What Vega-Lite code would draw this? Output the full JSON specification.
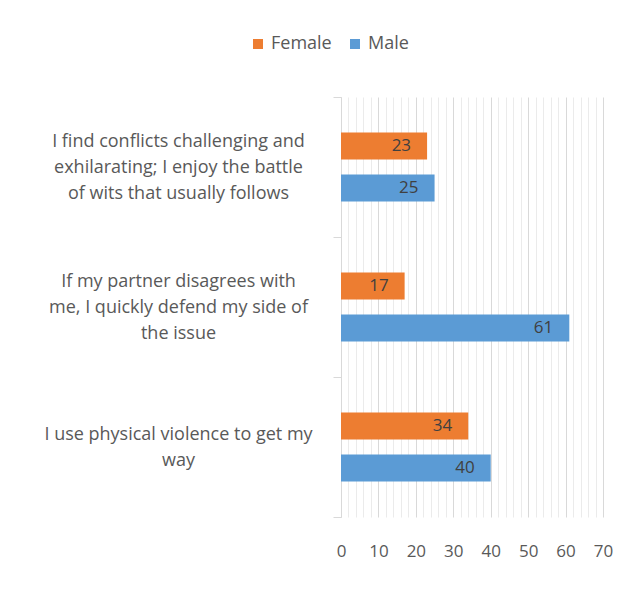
{
  "$schema": "https://vega.github.io/schema/vega-lite/v6.json",
  "width": 262,
  "height": 420,
  "autosize": {"type": "none"},
  "padding": {"left": 341, "top": 97, "right": 33, "bottom": 74},
  "background": "white",
  "config": {
    "font": "Open Sans",
    "view": {"stroke": null}
  },
  "data": {
    "values": [
      {"q": "I find conflicts challenging and|exhilarating; I enjoy the battle|of wits that usually follows", "sex": "Female", "value": 23},
      {"q": "I find conflicts challenging and|exhilarating; I enjoy the battle|of wits that usually follows", "sex": "Male", "value": 25},
      {"q": "If my partner disagrees with|me, I quickly defend my side of|the issue", "sex": "Female", "value": 17},
      {"q": "If my partner disagrees with|me, I quickly defend my side of|the issue", "sex": "Male", "value": 61},
      {"q": "I use physical violence to get my|way", "sex": "Female", "value": 34},
      {"q": "I use physical violence to get my|way", "sex": "Male", "value": 40}
    ]
  },
  "encoding": {
    "y": {
      "field": "q",
      "type": "nominal",
      "sort": null,
      "scale": {"paddingInner": 0, "paddingOuter": 0},
      "axis": {
        "title": null,
        "labelExpr": "split(datum.label, '|')",
        "labelAlign": "center",
        "labelBaseline": "middle",
        "labelOffset": {"condition": {"test": "length(split(datum.label, '|')) === 3", "value": -26}, "value": -13},
        "labelPadding": 155,
        "labelFontSize": 18,
        "labelLineHeight": 26,
        "labelColor": "#595959",
        "labelLimit": 400,
        "tickBand": "extent",
        "tickSize": 8,
        "tickColor": "#d9d9d9",
        "domainColor": "#d9d9d9"
      }
    },
    "yOffset": {
      "field": "sex",
      "type": "nominal",
      "sort": ["Female", "Male"],
      "scale": {"paddingInner": 0.357, "paddingOuter": 0.845}
    },
    "x": {
      "field": "value",
      "type": "quantitative",
      "scale": {"domain": [0, 70], "nice": false},
      "axis": {
        "title": null,
        "values": [0,2,4,6,8,10,12,14,16,18,20,22,24,26,28,30,32,34,36,38,40,42,44,46,48,50,52,54,56,58,60,62,64,66,68,70],
        "labelExpr": "datum.value % 10 === 0 ? datum.label : ''",
        "labelFlush": false,
        "grid": true,
        "gridColor": {"condition": {"test": "datum.value % 10 === 0", "value": "#d9d9d9"}, "value": "#ebebeb"},
        "domain": false,
        "ticks": false,
        "labelPadding": 26,
        "labelFontSize": 17,
        "labelColor": "#595959"
      }
    }
  },
  "layer": [
    {
      "mark": {"type": "bar"},
      "encoding": {
        "color": {
          "field": "sex",
          "type": "nominal",
          "scale": {"domain": ["Female", "Male"], "range": ["#ED7D31", "#5B9BD5"]},
          "legend": {
            "title": null,
            "orient": "none",
            "direction": "horizontal",
            "legendX": -92,
            "legendY": -62,
            "symbolType": "square",
            "symbolSize": 100,
            "symbolStrokeWidth": 0,
            "labelFontSize": 18,
            "labelColor": "#595959",
            "columnPadding": 14,
            "labelOffset": 4
          }
        }
      }
    },
    {
      "mark": {"type": "text", "align": "right", "baseline": "middle", "dx": -16, "fontSize": 17, "color": "#404040"},
      "encoding": {"text": {"field": "value", "type": "quantitative"}}
    }
  ]
}
